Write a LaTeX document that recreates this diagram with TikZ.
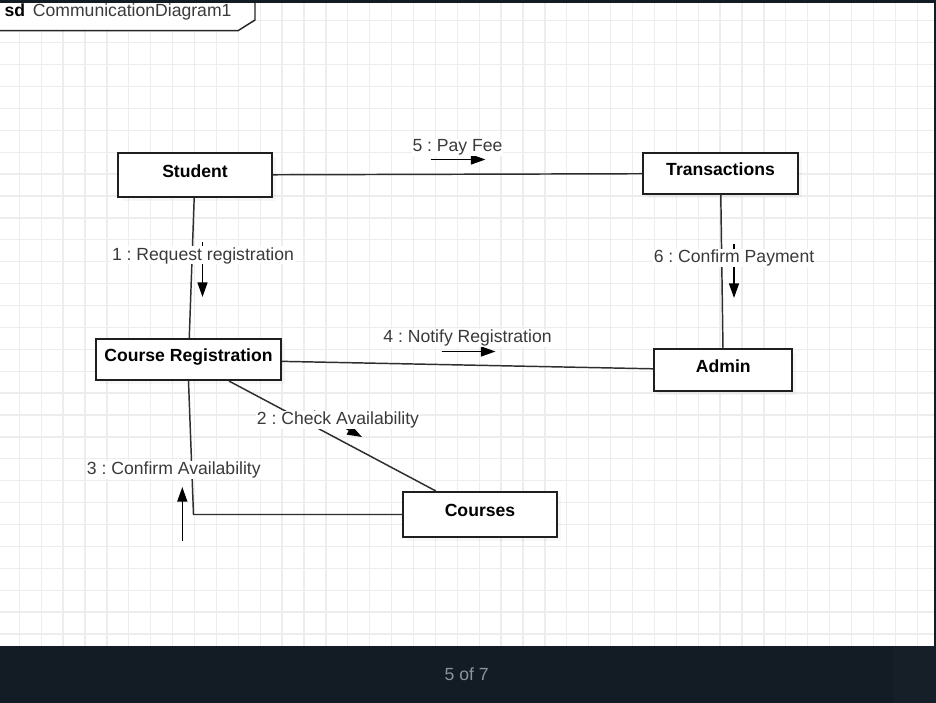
\documentclass[tikz,border=0pt]{standalone}
\usepackage{fontspec}
\setmainfont{Liberation Sans}
\usetikzlibrary{arrows.meta,shadows}

\definecolor{barbg}{HTML}{131B24}
\definecolor{barside}{HTML}{161E27}
\definecolor{gridline}{HTML}{EDEDED}
\definecolor{msgtext}{HTML}{3A3A3A}
\definecolor{linecol}{HTML}{2E2E2E}
\definecolor{pagecol}{HTML}{8B949E}

\newcommand{\diafont}{\frenchspacing\fontsize{13.2}{15.8}\selectfont}

\tikzset{
  objbox/.style={draw=black!88, line width=1.5pt, fill=white, inner sep=0pt,
    font=\diafont\bfseries, text height=9.5pt, text depth=6pt,
    drop shadow={opacity=0.06, shadow xshift=3pt, shadow yshift=-3pt}},
  link/.style={draw=linecol, line width=1.1pt},
  msgarrow/.style={draw=black, line width=1.1pt, -{Triangle[length=11pt,width=7.5pt]}},
  msglabel/.style={fill=white, text=msgtext, inner sep=0.6pt, anchor=base, font=\diafont}
}

\begin{document}
\begin{tikzpicture}[x=0.75pt,y=-0.75pt]
\useasboundingbox (0,0) rectangle (936,703) ;
\fill[white] (0,0) rectangle (936,646) ;

% grid
\begin{scope}
\clip (0,0) rectangle (936,646) ;
\foreach \gx in {0,...,42}
  \draw[gridline, line width=1pt] ({19.3+21.9*\gx},0) -- ++(0,646) ;
\foreach \gy in {0,...,29}
  \draw[gridline, line width=1pt] (0,{20.8+21.9*\gy}) -- ++(936,0) ;
\end{scope}

% objects
\node[objbox, minimum width=115.5pt, minimum height=33pt] (student) at (195,175) {Student} ;
\node[objbox, minimum width=116.25pt, minimum height=30.75pt] (transactions) at (720.5,173.5) {Transactions} ;
\node[objbox, minimum width=138.75pt, minimum height=30.75pt] (coursereg) at (188.5,359.5) {Course Registration} ;
\node[objbox, minimum width=103.5pt, minimum height=31.3pt] (admin) at (723.3,370.2) {Admin} ;
\node[objbox, minimum width=115.5pt, minimum height=33.75pt] (courses) at (480,514.5) {Courses} ;

% links
\coordinate (bend) at (193.5,514.5) ;
\draw[link] (student) -- (coursereg) ;
\draw[link] (student) -- (transactions) ;
\draw[link] (transactions) -- (admin) ;
\draw[link] (coursereg) -- (admin) ;
\draw[link] (coursereg) -- (courses) ;
\draw[link] (coursereg.south) -- (bend) -- (courses.west) ;

% messages
\coordinate (m1a) at (202.5,242) ;
\coordinate (m1b) at (202.5,297) ;
\draw[msgarrow] (m1a) -- (m1b) ;
\node[msglabel] (m1) at (203,260) {1 : Request registration} ;

\coordinate (m2a) at (314,411) ;
\coordinate (m2b) at (362,437) ;
\draw[msgarrow] (m2a) -- (m2b) ;
\node[msglabel] (m2) at (338,424.3) {2 : Check Availability} ;

\coordinate (m3a) at (182.3,541) ;
\coordinate (m3b) at (182.3,487) ;
\draw[msgarrow] (m3a) -- (m3b) ;
\node[msglabel] (m3) at (173.8,474.3) {3 : Confirm Availability} ;

\coordinate (m4a) at (441.5,351.5) ;
\coordinate (m4b) at (495.5,351.5) ;
\draw[msgarrow] (m4a) -- (m4b) ;
\node[msglabel] (m4) at (467.5,342.5) {4 : Notify Registration} ;

\coordinate (m5a) at (430.5,159.5) ;
\coordinate (m5b) at (485.5,159.5) ;
\draw[msgarrow] (m5a) -- (m5b) ;
\node[msglabel] (m5) at (457.5,151.5) {5 : Pay Fee} ;

\coordinate (m6a) at (734,244) ;
\coordinate (m6b) at (734,298) ;
\draw[msgarrow] (m6a) -- (m6b) ;
\node[msglabel] (m6) at (734,262.5) {6 : Confirm Payment} ;

% frame tab
\fill[white] (0,0) -- (255,0) -- (255,20) -- (238,30.7) -- (0,30.7) -- cycle ;
\draw[black!85, line width=1.1pt] (0,30.7) -- (238,30.7) -- (255,20) -- (255,0) ;
\node[anchor=base west, inner sep=0pt, font=\diafont] (frametitle) at (4.3,16.7)
  {\textbf{sd}\, \textcolor{msgtext}{CommunicationDiagram1}} ;

% viewer chrome
\fill[barbg] (0,0) rectangle (936,3) ;
\fill[barbg] (933.5,0) rectangle (936,646) ;
\fill[barbg] (0,646) rectangle (936,703) ;
\fill[barside] (893,646) rectangle (936,703) ;
\node[anchor=base, inner sep=0pt, text=pagecol, font=\diafont] (pagenum) at (466.7,680) {5 of 7} ;
\end{tikzpicture}
\end{document}
